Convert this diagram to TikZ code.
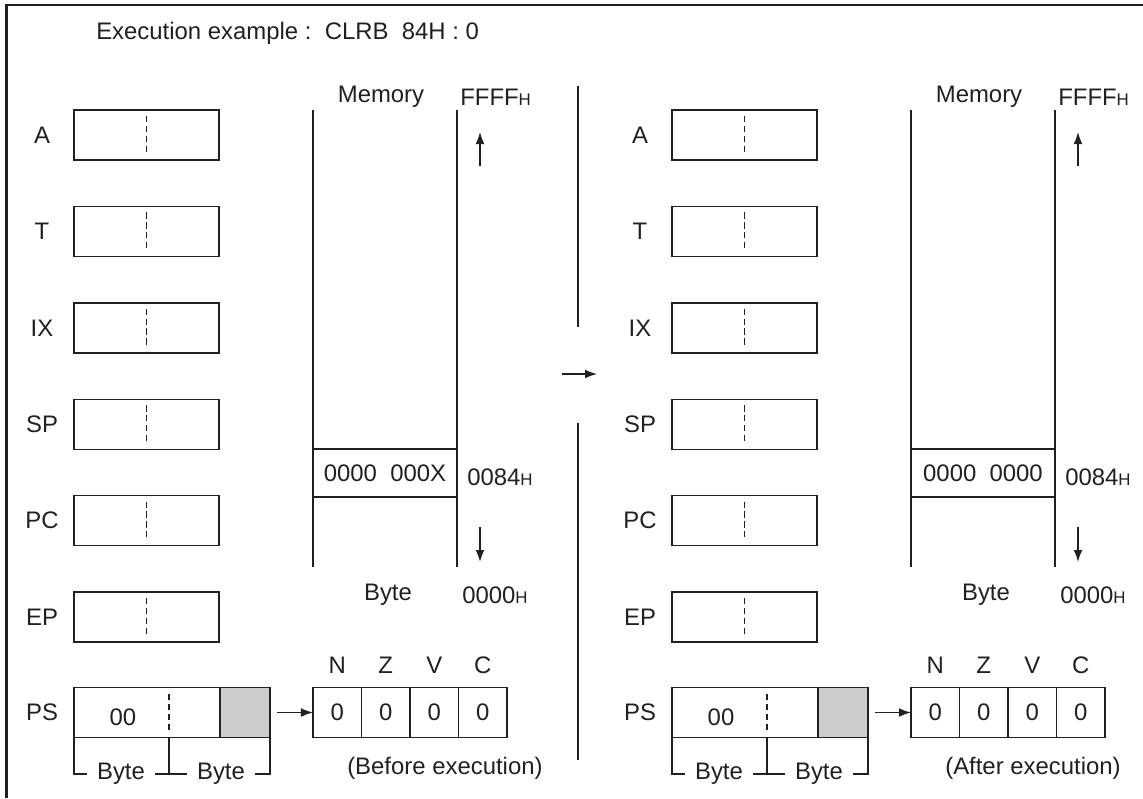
\documentclass[tikz,border=0pt]{standalone}
\usepackage{fontspec}
\setmainfont{Liberation Sans}
\usetikzlibrary{arrows.meta, positioning}
\definecolor{ink}{RGB}{35,31,32}
\definecolor{shade}{RGB}{204,204,204}
\newcommand{\hsuf}{{\fontsize{12pt}{12pt}\selectfont H}}

\begin{document}
\begin{tikzpicture}[
    x=0.025cm, y=-0.025cm,
    every node/.style={font=\fontsize{17pt}{20pt}\selectfont, text=ink},
    reg/.style={rectangle, draw=ink, line width=1pt, minimum width=36.25mm,
                minimum height=12.5mm, inner sep=0pt, outer sep=0pt},
    cell/.style={reg, minimum width=12.125mm},
    half/.style={draw=ink, line width=0.9pt, dash pattern=on 4.5pt off 2.5pt},
    wire/.style={draw=ink, line width=1pt},
    addr/.style={anchor=west, inner xsep=0pt},
    ar/.style={-{Latex[length=3mm, width=2.2mm]}, draw=ink, line width=1pt}
]
\useasboundingbox (0,0) rectangle (1143,798);
% frame
\draw[ink, line width=1.9pt] (6.5,798) -- (6.5,5) -- (1143,5);
\node[addr] (title) at (96,33) {Execution example :\ \ CLRB\ \ 84H : 0};

\foreach \dx/\sx/\val/\cap in {0/L/0000\ \ 000X/Before execution, 598/R/0000\ \ 0000/After execution}{
  % registers
  \foreach \r [count=\i from 0] in {A,T,IX,SP,PC,EP}{
    \node[reg] (\sx-\r) at ({\dx+146.5},{135+96.4*\i}) {};
    \node at ({\dx+42},{135+96.4*\i}) {\r};
    \draw[half] ([yshift=-1.5mm]\sx-\r.north) -- ([yshift=1.5mm]\sx-\r.south);
  }
  % PS and condition codes
  \node[reg, minimum width=49mm] (\sx-PS) at ({\dx+172},712.5) {};
  \node[reg, minimum width=12.5mm, fill=shade, anchor=east] (\sx-CCR) at (\sx-PS.east) {};
  \node at ({\dx+42},712) {PS};
  \node at ({\dx+123},717) {00};
  \coordinate (\sx-h0) at ({\dx+169},694);
  \coordinate (\sx-h1) at ({\dx+169},731);
  \draw[half] (\sx-h0) -- (\sx-h1);
  \node[inner xsep=2.5mm] (\sx-b1) at ({\dx+121},774) {Byte};
  \node[inner xsep=2.5mm] (\sx-b2) at ({\dx+221},774) {Byte};
  \draw[wire] (\sx-PS.south west) |- (\sx-b1.west);
  \draw[wire] (\sx-b1.east) -- (\sx-b2.west);
  \draw[wire] (\sx-b2.east) -| (\sx-PS.south east);
  \draw[wire] (\sx-PS.south -| \sx-h0) -- (\sx-h0 |- \sx-b1);
  \foreach \fl [count=\k from 0] in {N,Z,V,C}{
    \node[cell] (\sx-f\k) at ({\dx+337.25+48.5*\k},712.5) {0};
    \node at ([yshift=5.5mm]\sx-f\k.north) {\fl};
  }
  \draw[ar, shorten <=1.75mm] (\sx-CCR.east) -- (\sx-f0.west);
  \node[addr] at ({\dx+347},768) {(\cap)};
  % memory
  \node[reg, minimum width=36mm, minimum height=12mm] (\sx-M) at ({\dx+385},473) {\val};
  \coordinate (\sx-mtop) at ({\dx+385},110);
  \coordinate (\sx-mbot) at ({\dx+385},567);
  \draw[wire] (\sx-M.west |- \sx-mtop) -- (\sx-M.west |- \sx-mbot);
  \draw[wire] (\sx-M.east |- \sx-mtop) -- (\sx-M.east |- \sx-mbot);
  \node at ({\dx+381},97) {Memory};
  \node[addr] at ({\dx+460},97) {FFFF\hsuf};
  \node[addr] at ({\dx+467},477) {0084\hsuf};
  \node at ({\dx+388},595) {Byte};
  \node[addr] at ({\dx+462},595) {0000\hsuf};
  \coordinate (\sx-u0) at ({\dx+480},166);
  \coordinate (\sx-u1) at ({\dx+480},132);
  \draw[ar] (\sx-u0) -- (\sx-u1);
  \coordinate (\sx-dn0) at ({\dx+480},527);
  \coordinate (\sx-dn1) at ({\dx+480},562);
  \draw[ar] (\sx-dn0) -- (\sx-dn1);
}

% separator and transition arrow
\coordinate (sep-top) at (578,86);
\coordinate (sep-a) at (578,327);
\coordinate (sep-b) at (578,423);
\coordinate (sep-bot) at (578,760);
\draw[wire] (sep-top) -- (sep-a);
\draw[wire] (sep-b) -- (sep-bot);
\coordinate (go0) at (562,374);
\coordinate (go1) at (597,374);
\draw[ar] (go0) -- (go1);
\end{tikzpicture}
\end{document}
